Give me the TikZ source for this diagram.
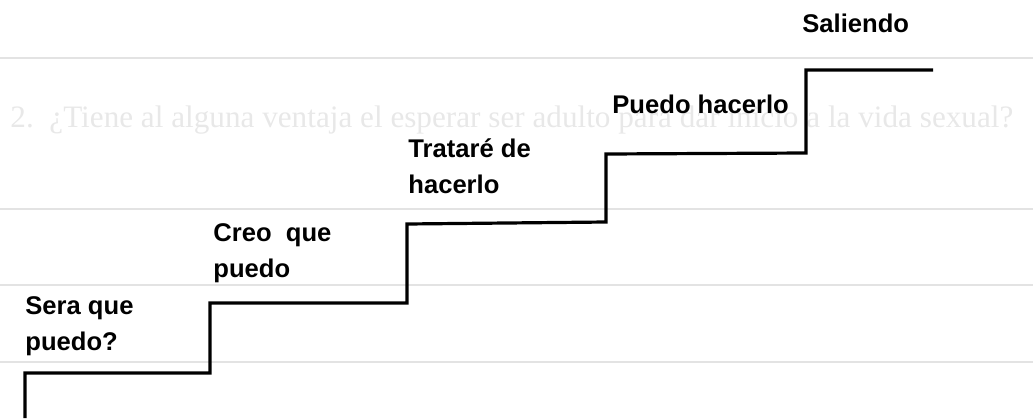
\documentclass[tikz,border=0pt]{standalone}
\usepackage{fontspec}
\setmainfont{Liberation Sans}
\newfontfamily\ghostfont{Liberation Serif}
\usetikzlibrary{positioning}

\tikzset{
  stair/.style={line width=1.6pt, line join=miter},
  rule/.style={black!11, line width=0.6pt},
  ghost/.style={black!9, font=\ghostfont\fontsize{15.6}{17}\selectfont, anchor=base west, inner sep=0pt},
  steplabel/.style={font=\bfseries\fontsize{12.8}{18}\selectfont, anchor=base west, inner sep=0pt, align=left}
}

\begin{document}
\begin{tikzpicture}[x=0.5pt,y=-0.5pt]
  \useasboundingbox (0,0) rectangle (1033,418);

  % faint ruled lines and text showing through the page
  \foreach \yy in {58,209,285,362}
    \draw[rule] (0,\yy) -- (1033,\yy);
  \node[ghost] (question) at (10,127) {2.\ \ ¿Tiene al alguna ventaja el esperar ser adulto para dar inicio a la vida sexual?};

  % the stairs
  \draw[stair] (25,418) -- (25,373) -- (210,373) -- (210,303) -- (407,303) -- (407,224)
    -- (606,222) -- (606,154) -- (806,153) -- (806,70) -- (933,70);

  % two-line labels sit on the baseline of their last line
  \node[steplabel] (sera) at (25,350) {Sera que\\puedo?};
  \node[steplabel] (creo) at (213,277) {Creo~~que\\puedo};
  \node[steplabel] (tratare) at (408,193) {Trataré de\\hacerlo};
  \node[steplabel] (puedo) at (612,113) {Puedo hacerlo};
  \node[steplabel] (saliendo) at (802,32) {Saliendo};
\end{tikzpicture}
\end{document}
